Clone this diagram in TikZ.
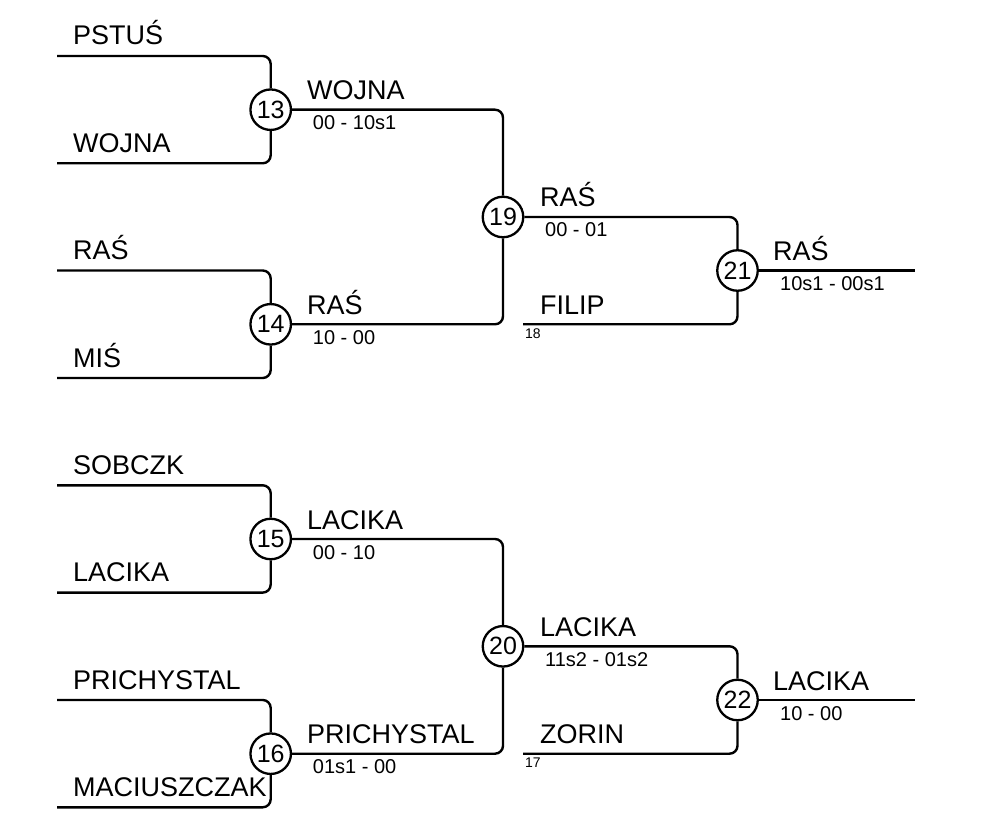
\documentclass[tikz,border=0pt]{standalone}
\usepackage{fontspec}
\setmainfont{Liberation Sans}

\begin{document}
\begin{tikzpicture}[
    x=1pt, y=-1pt,
    line/.style = {line width=2.4pt, rounded corners=8pt},
    match/.style = {circle, draw, fill=white, line width=2.3pt, minimum size=40.5pt, inner sep=0pt, font=\fontsize{25}{27}\selectfont},
    player/.style = {anchor=base west, inner sep=0pt, font=\fontsize{27}{30}\selectfont},
    score/.style = {anchor=base west, inner sep=0pt, font=\fontsize{20}{22}\selectfont},
    seed/.style = {anchor=base west, inner sep=0pt, font=\fontsize{14}{15}\selectfont}
]
\useasboundingbox (0,0) rectangle (994,821);

% Entry lines
\coordinate (e1) at (57,56);
\coordinate (e2) at (57,163.3);
\coordinate (e3) at (57,270.5);
\coordinate (e4) at (57,378);
\coordinate (e5) at (57,485.3);
\coordinate (e6) at (57,592.6);
\coordinate (e7) at (57,700);
\coordinate (e8) at (57,807.3);
\coordinate (b18) at (523,324.3);
\coordinate (b17) at (523,753.7);
\coordinate (w21) at (915,270.5);
\coordinate (w22) at (915,700);

% Matches
\node[match] (m13) at (270.7,109.7) {13};
\node[match] (m14) at (270.7,324.3) {14};
\node[match] (m15) at (270.7,539) {15};
\node[match] (m16) at (270.7,753.7) {16};
\node[match] (m19) at (503,217) {19};
\node[match] (m20) at (503,646.3) {20};
\node[match] (m21) at (737.5,270.5) {21};
\node[match] (m22) at (737.5,700) {22};

% Round 1
\draw[line] (e1) -| (m13);
\draw[line] (e2) -| (m13);
\draw[line] (e3) -| (m14);
\draw[line] (e4) -| (m14);
\draw[line] (e5) -| (m15);
\draw[line] (e6) -| (m15);
\draw[line] (e7) -| (m16);
\draw[line] (e8) -| (m16);

% Round 2
\draw[line] (m13) -| (m19);
\draw[line] (m14) -| (m19);
\draw[line] (m15) -| (m20);
\draw[line] (m16) -| (m20);

% Round 3
\draw[line] (m19) -| (m21);
\draw[line] (b18) -| (m21);
\draw[line] (m20) -| (m22);
\draw[line] (b17) -| (m22);
\draw[line] (m21) -- (w21);
\draw[line] (m22) -- (w22);

% Players
\node[player] (p1) at (73,45) {PSTUŚ};
\node[player] (p2) at (73,152.3) {WOJNA};
\node[player] (p3) at (73,259.6) {RAŚ};
\node[player] (p4) at (73,367) {MIŚ};
\node[player] (p5) at (73,474.3) {SOBCZK};
\node[player] (p6) at (73,581.6) {LACIKA};
\node[player] (p7) at (73,689) {PRICHYSTAL};
\node[player] (p8) at (73,796.3) {MACIUSZCZAK};

% Winners and scores
\node[player] (w13) at (307,99.7) {WOJNA};
\node[score] (s13) at (312.7,129.7) {00 - 10s1};
\node[player] (w14) at (307,314.3) {RAŚ};
\node[score] (s14) at (312.7,344.3) {10 - 00};
\node[player] (w15) at (307,529) {LACIKA};
\node[score] (s15) at (312.7,559) {00 - 10};
\node[player] (w16) at (307,743.7) {PRICHYSTAL};
\node[score] (s16) at (312.7,773.7) {01s1 - 00};

\node[player] (w19) at (540,207) {RAŚ};
\node[score] (s19) at (545,237) {00 - 01};
\node[player] (f18) at (540,314.3) {FILIP};
\node[seed] (n18) at (525,338.5) {18};
\node[player] (w20) at (540,636.3) {LACIKA};
\node[score] (s20) at (545,666.3) {11s2 - 01s2};
\node[player] (f17) at (540,743.7) {ZORIN};
\node[seed] (n17) at (525,767.9) {17};

\node[player] (w21n) at (773,260.5) {RAŚ};
\node[score] (s21) at (780,290.5) {10s1 - 00s1};
\node[player] (w22n) at (773,690) {LACIKA};
\node[score] (s22) at (780,720) {10 - 00};

\end{tikzpicture}
\end{document}
